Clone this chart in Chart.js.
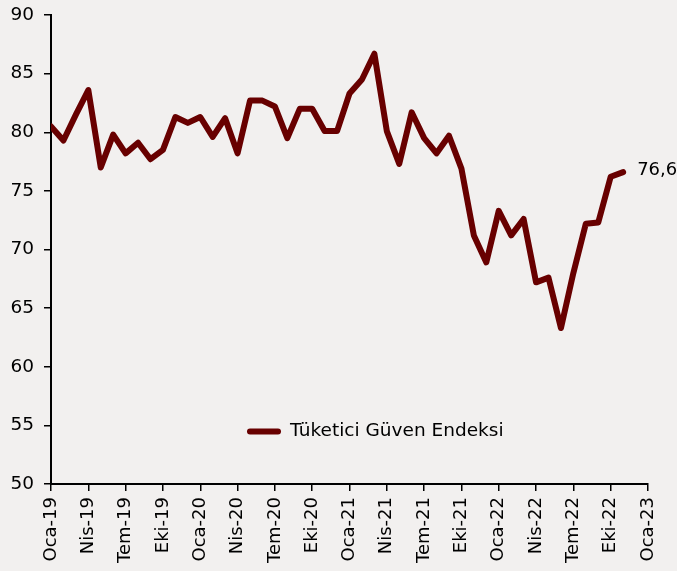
<!DOCTYPE html>
<html>
<head>
<meta charset="utf-8">
<script src="https://cdn.jsdelivr.net/npm/chart.js@4.4.0/dist/chart.umd.min.js"></script>
<style>
    html, body { margin: 0; padding: 0; background: #f2f0ef; }
    #wrap { width: 677px; height: 571px; position: relative; }
</style>
</head>
<body>
<div id="wrap"><canvas id="myChart"></canvas></div>
<script>
// Tüketici Güven Endeksi, Oca-19 .. Kas-22 (aylık)
const seriesName = 'Tüketici Güven Endeksi';
const values = [
    80.5, 79.3, 81.5, 83.6, 77.0, 79.8, 78.2, 79.1, 77.7, 78.5, 81.3, 80.8,
    81.3, 79.6, 81.2, 78.2, 82.7, 82.7, 82.2, 79.5, 82.0, 82.0, 80.1, 80.1,
    83.3, 84.5, 86.7, 80.1, 77.3, 81.7, 79.5, 78.2, 79.7, 76.9, 71.2, 68.9,
    73.3, 71.2, 72.6, 67.2, 67.6, 63.3, 68.0, 72.2, 72.3, 76.2, 76.6
];
// eksen etiketleri, her 3 ayda bir
const tickLabels = [
    'Oca-19', 'Nis-19', 'Tem-19', 'Eki-19',
    'Oca-20', 'Nis-20', 'Tem-20', 'Eki-20',
    'Oca-21', 'Nis-21', 'Tem-21', 'Eki-21',
    'Oca-22', 'Nis-22', 'Tem-22', 'Eki-22',
    'Oca-23'
];
const lastLabel = '76,6';

const lineColor = '#680000';
const fontFam = '"DejaVu Sans", sans-serif';

document.addEventListener('DOMContentLoaded', function () {
    const points = values.map((v, i) => ({ x: i, y: v }));

    // arka plan
    const bgPlugin = {
        id: 'bg',
        beforeDraw(chart) {
            const c = chart.ctx;
            c.save();
            c.fillStyle = '#f2f0ef';
            c.fillRect(0, 0, chart.width, chart.height);
            c.restore();
        }
    };

    // son değer etiketi + grafik içi lejant
    const extrasPlugin = {
        id: 'extras',
        afterDatasetsDraw(chart) {
            const c = chart.ctx;
            const meta = chart.getDatasetMeta(0);
            const last = meta.data[meta.data.length - 1];
            c.save();
            c.fillStyle = '#000';
            c.font = '18px ' + fontFam;
            c.textBaseline = 'middle';
            c.textAlign = 'left';
            c.fillText(lastLabel, last.x + 14, last.y - 2);

            // lejant
            const area = chart.chartArea;
            const ly = area.top + (area.bottom - area.top) * 0.888;
            const lx = area.left + 199;
            c.strokeStyle = lineColor;
            c.lineWidth = 6;
            c.lineCap = 'round';
            c.beginPath();
            c.moveTo(lx, ly);
            c.lineTo(lx + 28, ly);
            c.stroke();
            c.font = '18.5px ' + fontFam;
            c.fillText(seriesName, lx + 40, ly);
            c.restore();
        }
    };

    const ctx = document.getElementById('myChart').getContext('2d');
    new Chart(ctx, {
        type: 'line',
        data: {
            datasets: [{
                label: seriesName,
                data: points,
                borderColor: lineColor,
                borderWidth: 6,
                borderJoinStyle: 'round',
                borderCapStyle: 'round',
                pointRadius: 0,
                tension: 0,
                fill: false
            }]
        },
        options: {
            responsive: true,
            maintainAspectRatio: false,
            animation: false,
            layout: { padding: { top: 15, right: 29, left: 0, bottom: 0 } },
            plugins: {
                legend: { display: false },
                tooltip: { enabled: false }
            },
            scales: {
                x: {
                    type: 'linear',
                    min: 0,
                    max: 48,
                    afterBuildTicks(scale) {
                        scale.ticks = tickLabels.map((_, i) => ({ value: i * 3 }));
                    },
                    afterFit(scale) { scale.height = 87; scale.paddingRight = 0; },
                    ticks: {
                        autoSkip: false,
                        minRotation: 90,
                        maxRotation: 90,
                        padding: 6,
                        color: '#000',
                        font: { family: fontFam, size: 18 },
                        callback: (v) => tickLabels[Math.round(v / 3)]
                    },
                    grid: {
                        display: true,
                        drawOnChartArea: false,
                        drawTicks: true,
                        tickLength: 7,
                        color: '#000',
                        lineWidth: 1.5
                    },
                    border: { display: true, color: '#000', width: 2 }
                },
                y: {
                    min: 50,
                    max: 90,
                    afterFit(scale) { scale.width = 51; scale.paddingTop = 0; },
                    ticks: {
                        stepSize: 5,
                        padding: 10,
                        color: '#000',
                        font: { family: fontFam, size: 18.5 }
                    },
                    grid: {
                        display: true,
                        drawOnChartArea: false,
                        drawTicks: true,
                        tickLength: 7,
                        color: '#000',
                        lineWidth: 1.5
                    },
                    border: { display: true, color: '#000', width: 2 }
                }
            }
        },
        plugins: [bgPlugin, extrasPlugin]
    });
});
</script>
</body>
</html>
